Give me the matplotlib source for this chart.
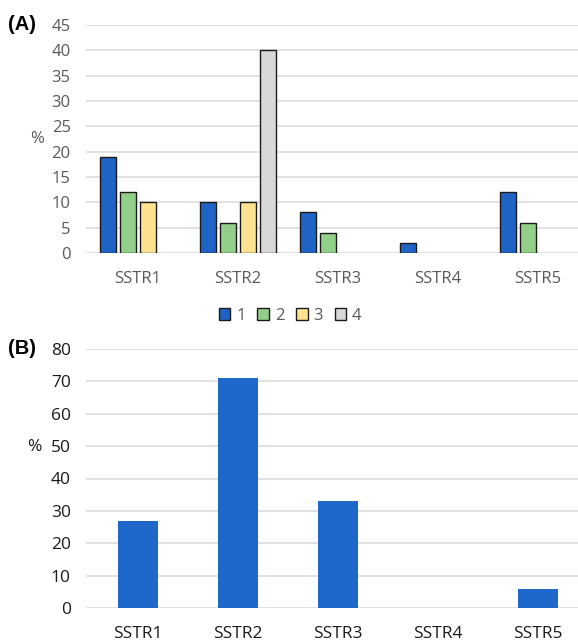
"""SSTR expression: grades per receptor (A) and overall positivity (B)."""
import numpy as np
import matplotlib
matplotlib.use('Agg')
import matplotlib.pyplot as plt

receptors = ['SSTR1', 'SSTR2', 'SSTR3', 'SSTR4', 'SSTR5']
series_names = ['1', '2', '3', '4']
grade1 = [19, 10, 8, 2, 12]
grade2 = [12, 6, 4, np.nan, 6]
grade3 = [10, 10, np.nan, np.nan, np.nan]
grade4 = [np.nan, 40, np.nan, np.nan, np.nan]
positive = [27, 71, 33, 0, 6]

COLORS_A = ['#1F63C4', '#92D08A', '#FFE28F', '#D8D8D8']
BLUE_B = '#1E68CB'
GRID = '#D9D9D9'
GREY_TXT = '#595959'

plt.rcParams['font.family'] = ['Open Sans', 'DejaVu Sans']

fig = plt.figure(figsize=(5.78, 6.42), dpi=100, facecolor='white')
W, H = 578, 642
axA = fig.add_axes([86 / W, 389 / H, 492 / W, 228 / H])
axB = fig.add_axes([86 / W, 34 / H, 492 / W, 259 / H])

x = np.arange(len(receptors))


def style(ax, ymax, step, color, size):
    ax.set_ylim(0, ymax)
    ax.set_xlim(-0.52, 4.40)
    ax.set_yticks(np.arange(0, ymax + 1, step))
    ax.yaxis.grid(True, color=GRID, linewidth=1.1)
    ax.set_axisbelow(True)
    for s in ax.spines.values():
        s.set_visible(False)
    ax.tick_params(length=0, labelsize=size, colors=color, pad=11)
    ax.set_xticks(x)
    ax.set_xticklabels(receptors)
    ax.tick_params(axis='x', pad=13)


# (A)
offsets = [-0.3, -0.1, 0.1, 0.3]
for vals, off, col, name in zip([grade1, grade2, grade3, grade4], offsets, COLORS_A, series_names):
    axA.bar(x + off, vals, width=0.155, color=col, edgecolor='#1a1a1a',
            linewidth=1.0, label=name, zorder=2)
style(axA, 45, 5, GREY_TXT, 12)
axA.text(-0.10, 0.5, '%', transform=axA.transAxes, fontsize=12, color=GREY_TXT,
         ha='center', va='center')
axA.legend(loc='upper center', bbox_to_anchor=(0.415, -0.175), ncol=4, frameon=False,
           fontsize=12, handlelength=0.7, handleheight=0.7, handletextpad=0.35,
           columnspacing=0.7, labelcolor=GREY_TXT)
fig.text(8 / W, 1 - 25 / H, '(A)', fontsize=14.5, fontweight='bold', va='center', ha='left',
         family=['Liberation Sans', 'DejaVu Sans'])

# (B)
axB.bar(x, positive, width=0.4, color=BLUE_B, zorder=2)
style(axB, 80, 10, '#1a1a1a', 12.5)
axB.text(-0.105, 0.62, '%', transform=axB.transAxes, fontsize=12.5, color='#1a1a1a',
         ha='center', va='center')
fig.text(8 / W, 1 - 349 / H, '(B)', fontsize=14.5, fontweight='bold', va='center', ha='left',
         family=['Liberation Sans', 'DejaVu Sans'])

plt.savefig('out.png', dpi=100, facecolor='white')
plt.close(fig)
